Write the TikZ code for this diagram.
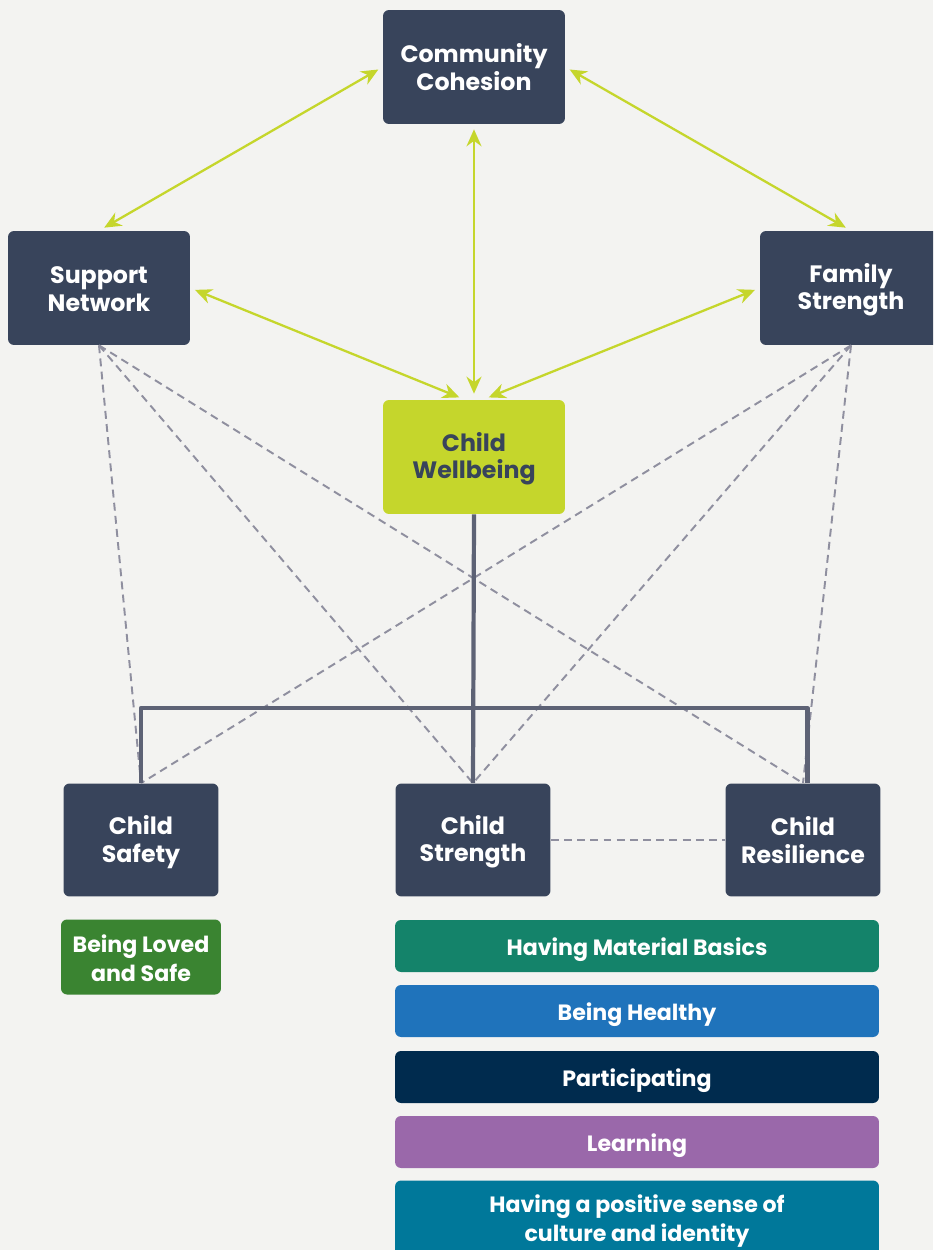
\documentclass[tikz,border=0pt]{standalone}
\usepackage{fontspec}
\setmainfont{Poppins}
\usetikzlibrary{arrows.meta}

\definecolor{paper}{HTML}{F3F3F1}
\definecolor{slate}{HTML}{38445B}
\definecolor{lime}{HTML}{C5D62C}
\definecolor{stem}{HTML}{5D6275}
\definecolor{dash}{HTML}{8F8F9F}
\definecolor{loved}{HTML}{3A8431}
\definecolor{basics}{HTML}{14836A}
\definecolor{healthy}{HTML}{1F73BB}
\definecolor{particip}{HTML}{002B4E}
\definecolor{learn}{HTML}{9A68AA}
\definecolor{culture}{HTML}{00789A}

% struts that sit the two-line labels a little low, as in the picture
\newcommand{\hiedge}{\rule{0pt}{0.85\baselineskip}}
\newcommand{\loedge}{\rule[-0.15\baselineskip]{0pt}{0pt}}

\tikzset{
    box/.style={fill=slate, text=white, rounded corners=0.12cm, align=center, inner sep=0pt,
        font=\bfseries\fontsize{13.5}{15.5}\selectfont},
    tag/.style={text=white, rounded corners=0.12cm, align=center, inner sep=0pt,
        font=\bfseries\fontsize{12.6}{16.2}\selectfont},
    link/.style={draw=lime, line width=1.3pt, {Stealth[length=0.34cm, width=0.3cm]}-{Stealth[length=0.34cm, width=0.3cm]},
        shorten <=0.1cm, shorten >=0.12cm},
    tie/.style={draw=dash, line width=1.1pt, dash pattern=on 4.5pt off 3pt},
    trunk/.style={draw=stem, line width=2.4pt}
}

\begin{document}
\begin{tikzpicture}[x=0.02cm, y=-0.02cm, line join=round]
    \useasboundingbox (0,0) rectangle (933,1250);
    \clip (0,0) rectangle (933,1250);
    \fill[paper] (0,0) rectangle (933,1250);
    % top row
    \foreach \x/\y/\id/\lbl in {
        474/67/CC/Community\\Cohesion,
        99/288/SN/Support\\Network,
        851/288/FS/Family\\Strength%
    } {
        \node[box, minimum width=3.64cm, minimum height=2.28cm] (\id) at (\x, \y) {\hiedge\lbl\loedge};
    }
    \node[box, fill=lime, text=slate, minimum width=3.64cm, minimum height=2.28cm] (CW) at (474, 457) {\hiedge Child\\Wellbeing\loedge};
    % child domains
    \foreach \x/\id/\lbl in {
        141/CSa/Child\\Safety,
        473/CSt/Child\\Strength,
        803/CR/Child\\Resilience%
    } {
        \node[box, minimum width=3.1cm, minimum height=2.26cm] (\id) at (\x, 840) {\hiedge\lbl\loedge};
    }
    \node[tag, fill=loved, minimum width=3.2cm, minimum height=1.5cm] (BL) at (141, 957) {\hiedge Being Loved\\and Safe\loedge};
    \foreach \y/\id/\col/\lbl in {
         946/MB/basics/Having Material Basics,
        1011/BH/healthy/Being Healthy,
        1077/PA/particip/Participating,
        1142/LE/learn/Learning%
    } {
        \node[tag, fill=\col, minimum width=9.68cm, minimum height=1.04cm] (\id) at (637, \y) {\hiedge\lbl\loedge};
    }
    \node[tag, fill=culture, minimum width=9.68cm, minimum height=1.5cm] (PC) at (637, 1218) {\hiedge Having a positive sense of\\culture and identity\loedge};
    % dashed ties
    \foreach \src in {SN, FS} {
        \foreach \dst in {CSa, CSt, CR} {
            \draw[tie] (\src.south) -- (\dst.north);
        }
    }
    \draw[tie] (CSt.east) -- (CR.west);
    % tree
    \coordinate (bar) at (474, 708);
    \draw[trunk] (CW.south) -- (CSt.north);
    \draw[trunk] (CSa.north) |- (bar) -| ([xshift=2.5pt]CR.north);
    % arrows
    \draw[link] (CC.west) -- (SN.north);
    \draw[link] (CC.east) -- (FS.north);
    \draw[link] (CC.south) -- (CW.north);
    \draw[link] (SN.east) -- (CW.99);
    \draw[link] (FS.west) -- (CW.81);
\end{tikzpicture}
\end{document}
